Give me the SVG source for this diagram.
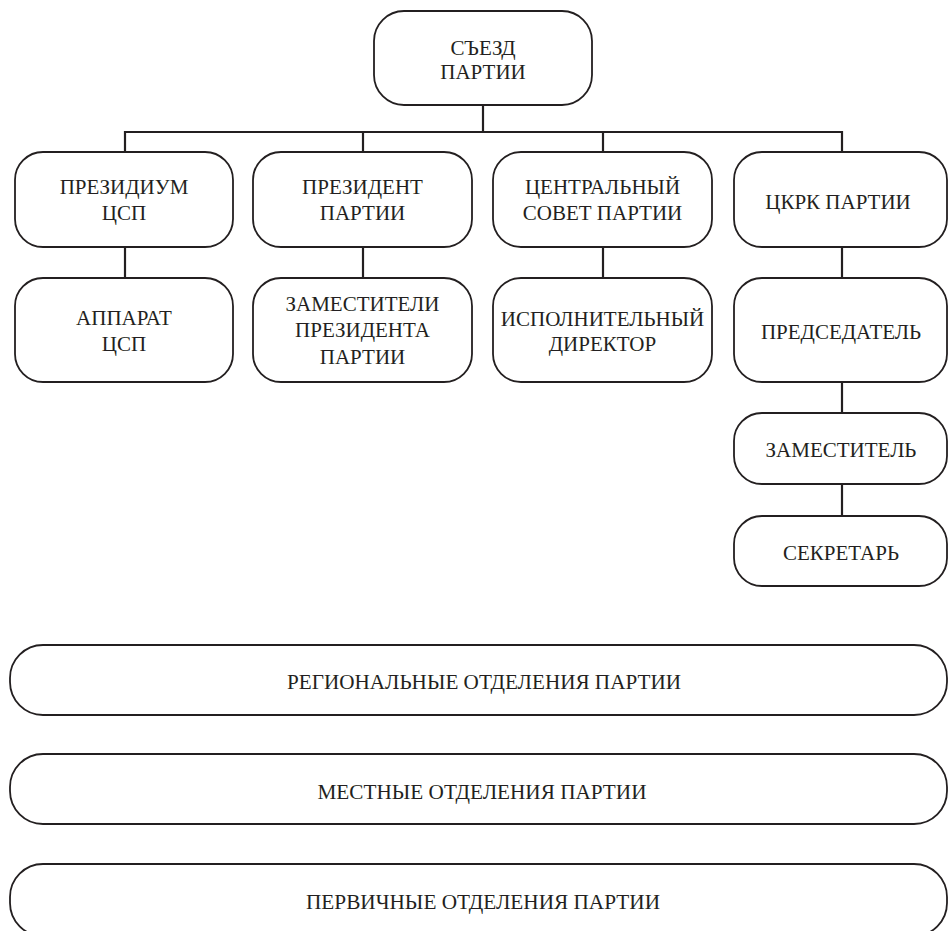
<svg xmlns="http://www.w3.org/2000/svg" width="948" height="931" viewBox="0 0 948 931">
<style>
.box{fill:#fff;stroke:#231f20;stroke-width:1.8}
.con{stroke:#231f20;stroke-width:2.2;fill:none}
text{font-family:"Liberation Serif","Times New Roman",serif;font-size:21px;fill:#231f20;text-anchor:middle}
</style>
<rect width="948" height="931" fill="#fff"/>
<g id="connectors">
<line class="con" x1="483" y1="105" x2="483" y2="132"/>
<polyline class="con" points="125,152 125,132 842,132 842,152"/>
<line class="con" x1="363" y1="132" x2="363" y2="152"/>
<line class="con" x1="603" y1="132" x2="603" y2="152"/>
<line class="con" x1="125" y1="247" x2="125" y2="278"/>
<line class="con" x1="363" y1="247" x2="363" y2="278"/>
<line class="con" x1="603" y1="247" x2="603" y2="278"/>
<line class="con" x1="842" y1="247" x2="842" y2="278"/>
<line class="con" x1="842" y1="382" x2="842" y2="413"/>
<line class="con" x1="842" y1="484" x2="842" y2="516"/>
</g>
<g id="congress">
<rect class="box" x="374" y="11" width="218" height="94" rx="30"/>
<text x="483" y="55">СЪЕЗД</text>
<text x="483" y="79">ПАРТИИ</text>
</g>
<g id="presidium">
<rect class="box" x="15" y="152" width="218" height="95" rx="28"/>
<text x="124" y="194">ПРЕЗИДИУМ</text>
<text x="124" y="220">ЦСП</text>
</g>
<g id="president">
<rect class="box" x="253" y="152" width="219" height="95" rx="28"/>
<text x="362.5" y="194">ПРЕЗИДЕНТ</text>
<text x="362.5" y="220">ПАРТИИ</text>
</g>
<g id="central-council">
<rect class="box" x="493" y="152" width="219" height="95" rx="28"/>
<text x="602.5" y="194">ЦЕНТРАЛЬНЫЙ</text>
<text x="602.5" y="220">СОВЕТ ПАРТИИ</text>
</g>
<g id="ckrk">
<rect class="box" x="734" y="152" width="213" height="95" rx="28"/>
<text x="838" y="209">ЦКРК ПАРТИИ</text>
</g>
<g id="apparatus">
<rect class="box" x="15" y="278" width="218" height="104" rx="28"/>
<text x="124" y="325">АППАРАТ</text>
<text x="124" y="351">ЦСП</text>
</g>
<g id="deputies">
<rect class="box" x="253" y="278" width="219" height="104" rx="28"/>
<text x="362.5" y="311">ЗАМЕСТИТЕЛИ</text>
<text x="362.5" y="337">ПРЕЗИДЕНТА</text>
<text x="362.5" y="364">ПАРТИИ</text>
</g>
<g id="exec-director">
<rect class="box" x="493" y="278" width="219" height="104" rx="28"/>
<text x="602.5" y="326">ИСПОЛНИТЕЛЬНЫЙ</text>
<text x="602.5" y="351">ДИРЕКТОР</text>
</g>
<g id="chairman">
<rect class="box" x="734" y="278" width="213" height="104" rx="28"/>
<text x="841" y="339">ПРЕДСЕДАТЕЛЬ</text>
</g>
<g id="deputy">
<rect class="box" x="734" y="413" width="213" height="71" rx="28"/>
<text x="841" y="457">ЗАМЕСТИТЕЛЬ</text>
</g>
<g id="secretary">
<rect class="box" x="734" y="516" width="213" height="70" rx="28"/>
<text x="841" y="560">СЕКРЕТАРЬ</text>
</g>
<g id="regional">
<rect class="box" x="10" y="645" width="937" height="70" rx="33"/>
<text x="484" y="689" textLength="394" lengthAdjust="spacingAndGlyphs">РЕГИОНАЛЬНЫЕ ОТДЕЛЕНИЯ ПАРТИИ</text>
</g>
<g id="local">
<rect class="box" x="10" y="754" width="937" height="70" rx="33"/>
<text x="482" y="799" textLength="329" lengthAdjust="spacingAndGlyphs">МЕСТНЫЕ ОТДЕЛЕНИЯ ПАРТИИ</text>
</g>
<g id="primary">
<rect class="box" x="10" y="864" width="937" height="72" rx="33"/>
<text x="483" y="909" textLength="354" lengthAdjust="spacingAndGlyphs">ПЕРВИЧНЫЕ ОТДЕЛЕНИЯ ПАРТИИ</text>
</g>
</svg>
